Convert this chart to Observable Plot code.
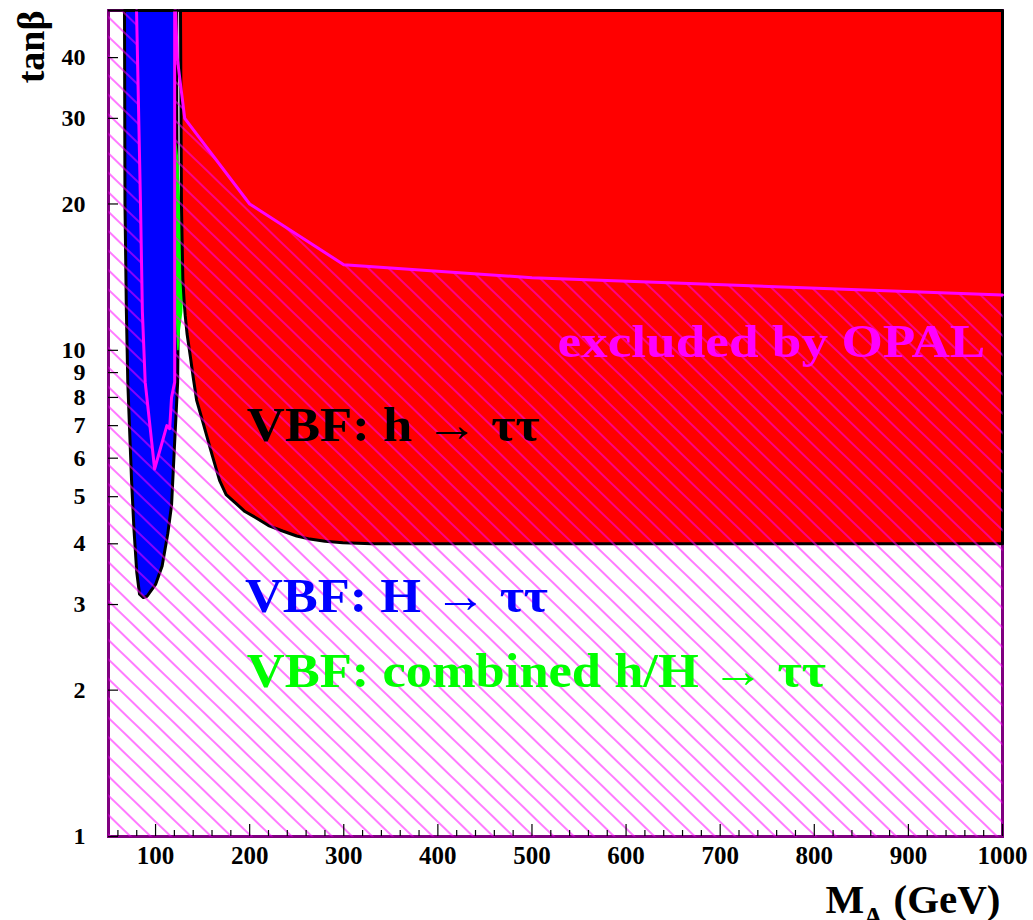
<!DOCTYPE html>
<html><head><meta charset="utf-8">
<script src="https://cdn.jsdelivr.net/npm/d3@7"></script>
<script src="https://cdn.jsdelivr.net/npm/@observablehq/plot@0.6"></script>
<style>html,body{margin:0;padding:0;background:#fff;overflow:hidden}#chart svg{display:block}</style>
</head><body><div id="chart"></div>
<script>
// ---- axis ranges and ticks ----
const maRange = [50, 1000];
const tanbRange = [1, 50];
const xMajorTicks = [100, 200, 300, 400, 500, 600, 700, 800, 900, 1000];
const xMinorTicks = [60, 80, 120, 140, 160, 180, 220, 240, 260, 280, 320, 340, 360, 380, 420, 440, 460, 480,
  520, 540, 560, 580, 620, 640, 660, 680, 720, 740, 760, 780, 820, 840, 860, 880, 920, 940, 960, 980];
const yTicks = [1, 2, 3, 4, 5, 6, 7, 8, 9, 10, 20, 30, 40];

// ---- OPAL exclusion boundaries (hatched region edges) ----
const opalUpperMA = [121.3, 123, 131, 200, 300, 500, 1000];
const opalUpperTanb = [50, 40, 30, 20, 15, 14.1, 13];
const opalPocketMA = [79.8, 84, 86, 89, 99, 112, 115, 117, 120.3, 120.3];
const opalPocketTanb = [50, 20, 12, 8.6, 5.7, 7.0, 6.9, 8.0, 8.6, 50];

// ---- VBF h -> tautau excluded contour ----
const hMA = [126.5, 127, 127.5, 129, 130.5, 131.5, 133.5, 137, 140, 143.6, 150, 160, 168, 175, 186, 195, 207, 220, 235, 250, 264, 280, 299, 330, 1000, 1000];
const hTanb = [50, 32, 20, 14, 12.5, 11.8, 10.8, 9.7, 8.8, 7.9, 7.15, 6.1, 5.4, 5.05, 4.83, 4.66, 4.52, 4.36, 4.25, 4.15, 4.09, 4.05, 4.02, 4.0, 4.0, 50];

// ---- VBF H -> tautau excluded contour ----
const HMA = [67, 67.5, 69, 70.5, 72.5, 74.5, 77, 80, 83, 87, 91, 95, 100, 107, 113, 117, 120, 123.5, 124, 123, 122.5, 122.5];
const HTanb = [50, 20, 12, 8.6, 6.8, 5.4, 4.3, 3.5, 3.15, 3.1, 3.12, 3.2, 3.3, 3.6, 4.2, 4.8, 6.3, 8.6, 11, 20, 32, 50];

// ---- VBF combined h/H -> tautau (extra region) ----
const combMA = [122, 124, 126.3, 128, 129.3, 128.5, 126, 124.5, 123, 121.2, 121.2];
const combTanb = [27, 25, 20, 15, 13, 12, 11, 10, 10, 12, 20];

const pts = (xs, ys) => xs.map((x, i) => ({x, y: ys[i]}));

// hatched region = full frame minus the two unhatched OPAL pockets
const hatchPoly = [
  {x: maRange[0], y: tanbRange[0]},
  {x: maRange[1], y: tanbRange[0]},
  ...pts(opalUpperMA, opalUpperTanb).reverse(),
  ...pts(opalPocketMA, opalPocketTanb).reverse(),
  {x: maRange[0], y: tanbRange[1]}
];

const serif = "'Liberation Serif', 'Times New Roman', Times, serif";
const bold = "bold";

const chart = Plot.plot({
  width: 1033, height: 920,
  marginLeft: 108, marginRight: 31, marginTop: 10, marginBottom: 84,
  style: {fontFamily: serif, background: "white", color: "black"},
  x: {domain: maRange},
  y: {type: "log", domain: tanbRange},
  marks: [
    Plot.frame({stroke: "#800080", strokeWidth: 3}),
    Plot.line(pts(HMA, HTanb), {x: "x", y: "y", curve: "linear-closed", fill: "#0000ff", stroke: "black", strokeWidth: 3}),
    Plot.line(pts(combMA, combTanb), {x: "x", y: "y", curve: "linear-closed", fill: "#00ff00", stroke: "none"}),
    Plot.line(pts(hMA, hTanb), {x: "x", y: "y", curve: "linear-closed", fill: "#ff0000", stroke: "black", strokeWidth: 3}),
    Plot.line(hatchPoly, {x: "x", y: "y", curve: "linear-closed", fill: "url(#opalHatch)", stroke: "none"}),
    Plot.line(pts(opalUpperMA, opalUpperTanb), {x: "x", y: "y", stroke: "#ff00ff", strokeWidth: 3}),
    Plot.line(pts(opalPocketMA, opalPocketTanb), {x: "x", y: "y", stroke: "#ff00ff", strokeWidth: 3}),
    Plot.ruleY([tanbRange[1]], {stroke: "black", strokeWidth: 2}),
    // text annotations
    Plot.text(["VBF: h \u2192 \u03c4\u03c4"], {x: 197, y: 7.0, textAnchor: "start", fill: "black", fontSize: 48, fontWeight: bold}),
    Plot.text(["VBF: H \u2192 \u03c4\u03c4"], {x: 195, y: 3.12, textAnchor: "start", fill: "#0000ff", fontSize: 48, fontWeight: bold}),
    Plot.text(["VBF: combined h/H \u2192 \u03c4\u03c4"], {x: 197, y: 2.18, textAnchor: "start", fill: "#00ff00", fontSize: 48, fontWeight: bold}),
    Plot.text(["excluded by OPAL"], {x: 527, y: 10.4, textAnchor: "start", fill: "#ff00ff", fontSize: 46, fontWeight: bold}),
    // axes
    Plot.axisX(xMajorTicks, {tickSize: -12, fill: "none", stroke: "black", strokeWidth: 1.2}),
    Plot.axisX(xMinorTicks, {tickSize: -6, fill: "none", stroke: "black", strokeWidth: 1.2}),
    Plot.axisX(xMajorTicks, {tickSize: 0, tickPadding: 10, fontSize: 25, fontWeight: bold, label: null, tickFormat: d => String(d)}),
    Plot.axisY(yTicks, {tickSize: -10, fill: "none", stroke: "black", strokeWidth: 1.2}),
    Plot.axisY(yTicks, {tickSize: 0, tickPadding: 23, fontSize: 24, fontWeight: bold, label: null, tickFormat: d => String(d)}),
    // axis titles
    Plot.text(["tan\u03b2"], {frameAnchor: "top-left", rotate: -90, textAnchor: "end", lineAnchor: "bottom", dx: -65, dy: 0, fontSize: 38, fontWeight: bold}),
    Plot.text(["M"], {frameAnchor: "bottom-right", textAnchor: "start", lineAnchor: "bottom", dx: -177, dy: 76, fontSize: 41, fontWeight: bold}),
    Plot.text(["A"], {frameAnchor: "bottom-right", textAnchor: "start", lineAnchor: "bottom", dx: -139, dy: 89, fontSize: 27, fontWeight: bold}),
    Plot.text(["(GeV)"], {frameAnchor: "bottom-right", textAnchor: "end", lineAnchor: "bottom", dx: -2, dy: 76, fontSize: 41, fontWeight: bold})
  ]
});

// hatch pattern definition
const ns = "http://www.w3.org/2000/svg";
const defs = document.createElementNS(ns, "defs");
const pat = document.createElementNS(ns, "pattern");
pat.setAttribute("id", "opalHatch");
pat.setAttribute("patternUnits", "userSpaceOnUse");
pat.setAttribute("width", "20");
pat.setAttribute("height", "14");
pat.setAttribute("patternTransform", "rotate(44)");
const ln = document.createElementNS(ns, "line");
ln.setAttribute("x1", "0"); ln.setAttribute("x2", "20");
ln.setAttribute("y1", "7"); ln.setAttribute("y2", "7");
ln.setAttribute("stroke", "#ff00ff");
ln.setAttribute("stroke-width", "1.3");
ln.setAttribute("stroke-opacity", "0.8");
pat.appendChild(ln);
defs.appendChild(pat);
chart.insertBefore(defs, chart.firstChild);

// stretch annotation texts to the widths of the reference lettering
const widths = {
  "VBF: h \u2192 \u03c4\u03c4": 293,
  "VBF: H \u2192 \u03c4\u03c4": 303,
  "VBF: combined h/H \u2192 \u03c4\u03c4": 579,
  "excluded by OPAL": 428
};
document.getElementById("chart").appendChild(chart);
chart.querySelectorAll("text").forEach(t => {
  const w = widths[t.textContent];
  if (w) { t.setAttribute("textLength", w); t.setAttribute("lengthAdjust", "spacingAndGlyphs"); }
});
</script>
</body></html>
